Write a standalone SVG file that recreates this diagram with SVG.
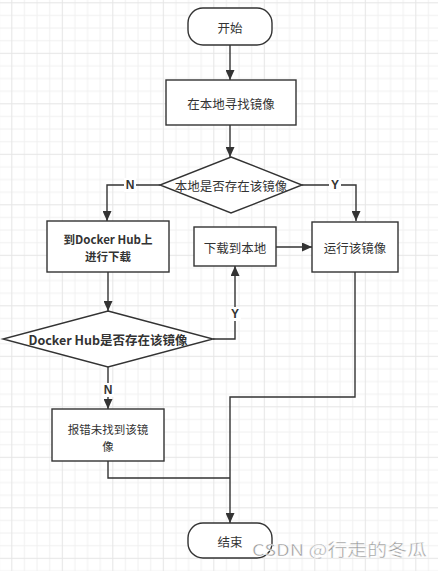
<svg xmlns="http://www.w3.org/2000/svg" width="438" height="571" viewBox="0 0 438 571">
<style>
.shape{fill:#fff;stroke:#333;stroke-width:1.4}
.conn{fill:none;stroke:#333;stroke-width:1.4}
.t{font-family:"Noto Sans CJK SC","Noto Sans",sans-serif;font-size:12.5px;fill:#333;text-anchor:middle;dominant-baseline:central}
.s{font-size:11.5px}
.b{font-weight:bold}
.lbl{font-family:"Liberation Sans","Noto Sans",sans-serif;font-size:12px;font-weight:bold;fill:#333;text-anchor:middle;dominant-baseline:central}
.lblbg{fill:#fff}
</style>
<defs>
<pattern id="grid" patternUnits="userSpaceOnUse" x="11.3" y="2.3" width="50.5" height="50.5">
<rect x="0" y="0" width="50.5" height="50.5" fill="#fff"/>
<rect x="12.625" y="0" width="1" height="50.5" fill="#f1f1f1"/>
<rect x="25.25" y="0" width="1" height="50.5" fill="#f1f1f1"/>
<rect x="37.875" y="0" width="1" height="50.5" fill="#f1f1f1"/>
<rect x="0" y="12.625" width="50.5" height="1" fill="#f1f1f1"/>
<rect x="0" y="25.25" width="50.5" height="1" fill="#f1f1f1"/>
<rect x="0" y="37.875" width="50.5" height="1" fill="#f1f1f1"/>
<rect x="0" y="0" width="1" height="50.5" fill="#e6e6e6"/>
<rect x="0" y="0" width="50.5" height="1" fill="#e6e6e6"/>
</pattern>
<marker id="arr" markerUnits="userSpaceOnUse" markerWidth="11" markerHeight="9" refX="10" refY="4.5" orient="auto">
<path d="M0,0 L10,4.5 L0,9 Z" fill="#333"/>
</marker>
</defs>
<rect x="0" y="0" width="438" height="571" fill="url(#grid)"/>

<g id="connectors">
<path class="conn" d="M230,45 L230,80" marker-end="url(#arr)"/>
<path class="conn" d="M230,125 L230,157" marker-end="url(#arr)"/>
<path class="conn" d="M160,185 L107,185 L107,221" marker-end="url(#arr)"/>
<path class="conn" d="M302,185 L356,185 L356,221" marker-end="url(#arr)"/>
<path class="conn" d="M108,272 L108,311" marker-end="url(#arr)"/>
<path class="conn" d="M213,339 L235,339 L235,266" marker-end="url(#arr)"/>
<path class="conn" d="M276,247 L312,247" marker-end="url(#arr)"/>
<path class="conn" d="M108,367 L108,409" marker-end="url(#arr)"/>
<path class="conn" d="M355,272 L355,397 L230,397 L230,523" marker-end="url(#arr)"/>
<path class="conn" d="M108,461 L108,478 L230,478"/>
<rect class="lblbg" x="124" y="178" width="12" height="14"/>
<text class="lbl" x="130" y="185">N</text>
<rect class="lblbg" x="329" y="178" width="12" height="14"/>
<text class="lbl" x="335" y="185">Y</text>
<rect class="lblbg" x="229" y="307" width="12" height="14"/>
<text class="lbl" x="235" y="314">Y</text>
<rect class="lblbg" x="102" y="383" width="12" height="14"/>
<text class="lbl" x="108" y="390">N</text>
</g>

<g id="start">
<rect class="shape" x="188" y="8" width="84" height="37" rx="15" ry="15"/>
<text class="t" x="230" y="27">开始</text>
</g>
<g id="search-local">
<rect class="shape" x="166" y="80" width="130" height="45"/>
<text class="t" x="231" y="103">在本地寻找镜像</text>
</g>
<g id="exists-local">
<polygon class="shape" points="231,157 302,185 231,213 160,185"/>
<text class="t" x="231" y="185">本地是否存在该镜像</text>
</g>
<g id="download-hub">
<rect class="shape" x="47" y="221" width="122" height="51"/>
<text class="t b s" x="108" y="238.5">到Docker Hub上</text>
<text class="t b s" x="108" y="256">进行下载</text>
</g>
<g id="download-local">
<rect class="shape" x="194" y="227" width="82" height="39"/>
<text class="t" x="235" y="247">下载到本地</text>
</g>
<g id="run-image">
<rect class="shape" x="312" y="222" width="86" height="50"/>
<text class="t" x="355" y="247">运行该镜像</text>
</g>
<g id="exists-hub">
<polygon class="shape" points="108,311 213,339 108,367 3,339"/>
<text class="t b" x="108" y="339">Docker Hub是否存在该镜像</text>
</g>
<g id="not-found">
<rect class="shape" x="52" y="409" width="112" height="52"/>
<text class="t s" x="108" y="428.5">报错未找到该镜</text>
<text class="t s" x="108" y="446">像</text>
</g>
<g id="end">
<rect class="shape" x="188" y="523" width="84" height="35" rx="15" ry="15"/>
<text class="t" x="230" y="541">结束</text>
</g>

<text x="252" y="556" font-family="Noto Sans CJK SC, Noto Sans, sans-serif" font-size="16.5" fill="#9a9a9a" stroke="#fff" stroke-width="0.4" textLength="175" lengthAdjust="spacingAndGlyphs">CSDN @行走的冬瓜</text>
</svg>
